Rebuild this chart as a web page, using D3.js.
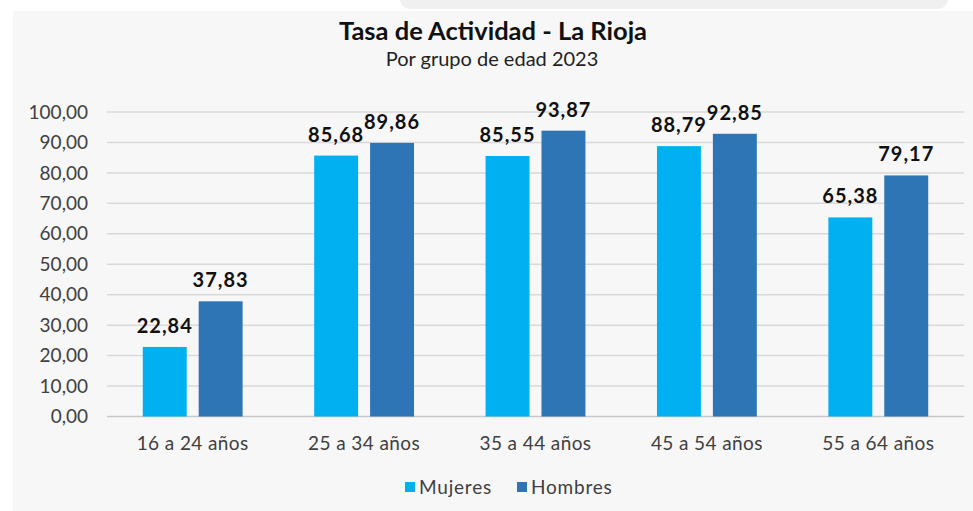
<!DOCTYPE html>
<html>
<head>
  <meta charset="UTF-8">
  <style>
    html, body { margin: 0; padding: 0; background: #ffffff; }
    svg { display: block; font-family: Lato, 'Open Sans', sans-serif; }
  </style>
</head>
<body>
<svg></svg>
<script src="https://d3js.org/d3.v7.min.js"></script>
<script>
  // ---- data
  const categories = ["16 a 24 años", "25 a 34 años", "35 a 44 años", "45 a 54 años", "55 a 64 años"];
  const series = ["Mujeres", "Hombres"];
  const mujeres = [22.84, 85.68, 85.55, 88.79, 65.38];
  const hombres = [37.83, 89.86, 93.87, 92.85, 79.17];
  const yTicks = [0, 10, 20, 30, 40, 50, 60, 70, 80, 90, 100];
  const colors = ["#00b0f0", "#2e75b6"];

  let width = 973, height = 511;
  let svg = d3.select("svg").attr("width", width).attr("height", height);

  // decimal comma
  const es = d3.formatLocale({decimal: ",", thousands: ".", grouping: [3], currency: ["", " €"]});
  const fmt = es.format(".2f");

  // background panel
  svg.append("rect").attr("x", 400).attr("y", -12).attr("width", 548).attr("height", 21)
     .attr("rx", 10).attr("fill", "#f0f0f0");
  svg.append("rect").attr("x", 13).attr("y", 11).attr("width", width - 13).attr("height", height - 11)
     .attr("fill", "#f7f7f7");

  // title
  svg.append("text").attr("x", 493).attr("y", 40).attr("text-anchor", "middle")
     .attr("font-size", 25.5).attr("font-weight", "bold").attr("fill", "#111")
     .text("Tasa de Actividad - La Rioja");
  svg.append("text").attr("x", 492).attr("y", 66).attr("text-anchor", "middle")
     .attr("font-size", 20).attr("fill", "#222")
     .text("Por grupo de edad 2023");

  // scales
  const margin = {left: 107, right: 9, top: 112, bottom: 94};
  const x0 = d3.scaleBand().domain(categories).range([margin.left, width - margin.right]).padding(0);
  const x1 = d3.scaleBand().domain(series).range([0, x0.bandwidth()])
     .paddingInner(0.214).paddingOuter(0.64);
  const y = d3.scaleLinear().domain([0, 100]).range([height - margin.bottom - 0.5, margin.top]);

  // grid
  svg.append("g").selectAll("line").data(yTicks).enter().append("line")
     .attr("x1", margin.left).attr("x2", width - margin.right)
     .attr("y1", d => y(d)).attr("y2", d => y(d))
     .attr("stroke", d => d === 0 ? "#c8c8c8" : "#d9d9d9").attr("stroke-width", 1.5);

  // y axis labels
  svg.append("g").selectAll("text").data(yTicks).enter().append("text")
     .attr("x", 88).attr("y", d => y(d)).attr("dy", "0.35em").attr("text-anchor", "end")
     .attr("font-size", 19).attr("fill", "#404040")
     .text(d => fmt(d));

  // bars
  const rows = categories.map((c, i) => ({cat: c, vals: [mujeres[i], hombres[i]]}));
  const groups = svg.append("g").selectAll("g").data(rows).enter().append("g")
     .attr("transform", d => "translate(" + x0(d.cat) + ",0)");

  groups.selectAll("rect").data(d => d.vals.map((v, j) => ({s: series[j], v: v, j: j})))
     .enter().append("rect")
     .attr("x", d => x1(d.s)).attr("width", x1.bandwidth())
     .attr("y", d => y(d.v)).attr("height", d => y(0) - y(d.v))
     .attr("fill", d => colors[d.j]);

  groups.selectAll("text").data(d => d.vals.map((v, j) => ({s: series[j], v: v, j: j})))
     .enter().append("text")
     .attr("x", d => x1(d.s) + x1.bandwidth() / 2).attr("y", d => y(d.v) - 14)
     .attr("text-anchor", "middle").attr("font-size", 20).attr("font-weight", "bold")
     .attr("letter-spacing", 1).attr("fill", "#111")
     .text(d => fmt(d.v));

  // category labels
  svg.append("g").selectAll("text").data(categories).enter().append("text")
     .attr("x", d => x0(d) + x0.bandwidth() / 2).attr("y", 450)
     .attr("text-anchor", "middle").attr("font-size", 19).attr("letter-spacing", 0.4)
     .attr("fill", "#404040")
     .text(d => d);

  // legend
  const legX = [405, 517];
  const leg = svg.append("g").selectAll("g").data(series).enter().append("g")
     .attr("transform", (d, i) => "translate(" + legX[i] + ",482)");
  leg.append("rect").attr("width", 10).attr("height", 10).attr("fill", (d, i) => colors[i]);
  leg.append("text").attr("x", 14).attr("y", 5).attr("dy", "0.35em")
     .attr("font-size", 19).attr("letter-spacing", 0.8).attr("fill", "#404040")
     .text(d => d);
</script>
</body>
</html>
